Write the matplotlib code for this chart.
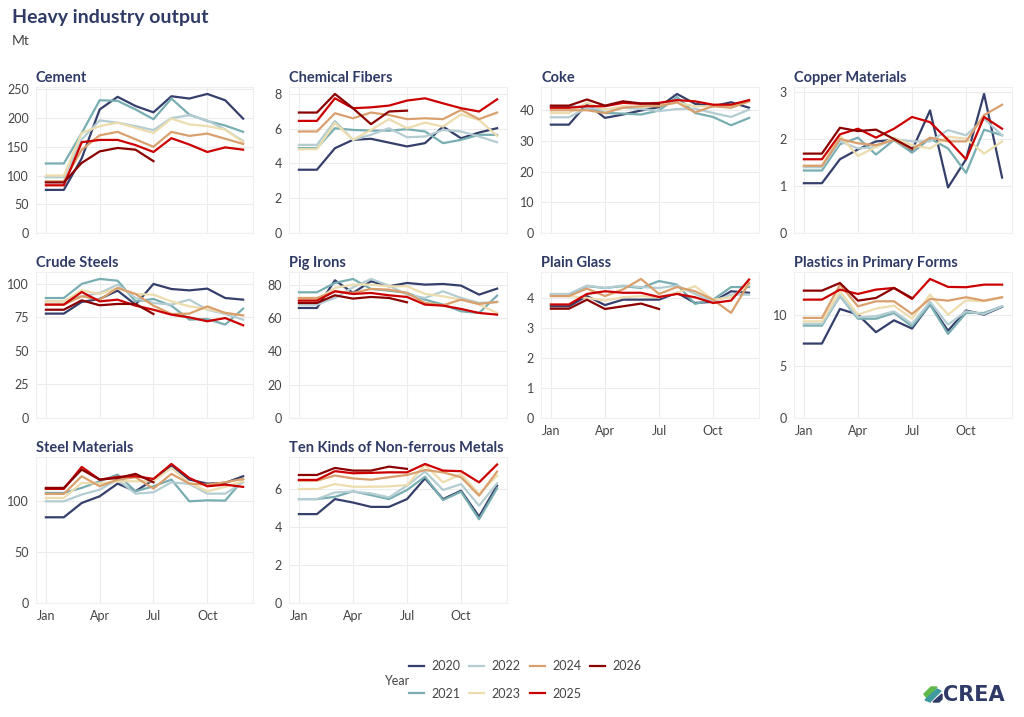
import matplotlib
matplotlib.use("Agg")
import matplotlib.pyplot as plt
from matplotlib.patches import Polygon

plt.rcParams['font.family'] = ['Lato', 'DejaVu Sans']

months = ["Jan", "Feb", "Mar", "Apr", "May", "Jun", "Jul", "Aug", "Sep", "Oct", "Nov", "Dec"]
years = ["2020", "2021", "2022", "2023", "2024", "2025", "2026"]
colors = ["#353f6b", "#78aeb2", "#b4cdd3", "#ecdcae", "#d9a06e", "#cc0000", "#8b0000"]

cement = [
    [75, 75, 130, 215, 237, 221, 210, 238, 234, 242, 231, 199],
    [121, 121, 174, 231, 230, 215, 198, 234, 206, 195, 187, 176],
    [97, 97, 163, 196, 192, 186, 179, 200, 205, 196, 180, 160],
    [100, 100, 174, 186, 192, 183, 174, 199, 189, 186, 180, 158],
    [90, 90, 145, 170, 176, 163, 150, 176, 169, 173, 164, 155],
    [83, 83, 158, 162, 162, 153, 141, 165, 154, 141, 149, 145],
    [88, 88, 122, 142, 148, 145, 125],
]
chemical_fibers = [
    [3.64, 3.64, 4.88, 5.36, 5.42, 5.2, 4.98, 5.17, 6.12, 5.45, 5.78, 6.03],
    [4.88, 4.88, 6.03, 5.93, 5.89, 5.89, 5.97, 5.84, 5.17, 5.36, 5.65, 5.65],
    [5.07, 5.07, 6.45, 5.36, 5.65, 6.03, 5.51, 5.55, 5.93, 5.84, 5.55, 5.22],
    [4.82, 4.82, 6.32, 5.36, 5.93, 6.55, 6.03, 6.35, 6.12, 6.83, 6.5, 5.59],
    [5.84, 5.84, 6.89, 6.6, 6.93, 6.79, 6.55, 6.6, 6.55, 7.08, 6.55, 6.93],
    [6.45, 6.45, 7.75, 7.18, 7.23, 7.33, 7.62, 7.75, 7.46, 7.18, 6.99, 7.69],
    [6.93, 6.93, 8.0, 7.18, 6.26, 6.99, 7.04],
]
coke = [
    [35.3, 35.3, 42.1, 37.5, 38.6, 39.9, 41.0, 45.3, 42.1, 41.3, 42.6, 40.8],
    [41.3, 41.3, 40.8, 39.1, 38.9, 38.6, 39.9, 44.3, 39.1, 37.8, 35.1, 37.5],
    [37.7, 37.7, 40.8, 40.2, 40.8, 40.4, 39.7, 40.4, 40.5, 39.1, 37.8, 40.2],
    [39.1, 39.1, 42.4, 40.2, 41.3, 41.0, 41.8, 42.4, 41.3, 41.3, 41.3, 42.9],
    [40.0, 40.0, 40.0, 39.1, 40.8, 41.3, 41.3, 42.6, 39.3, 41.3, 40.8, 42.9],
    [40.8, 40.8, 41.3, 41.3, 42.4, 42.1, 42.4, 43.3, 42.9, 41.8, 41.8, 43.3],
    [41.5, 41.5, 43.5, 41.5, 42.9, 42.2, 42.1],
]
copper = [
    [1.06, 1.06, 1.57, 1.78, 1.95, 1.98, 1.76, 2.61, 0.97, 1.57, 2.96, 1.18],
    [1.33, 1.33, 1.89, 2.03, 1.67, 1.98, 1.71, 2.01, 1.8, 1.28, 2.2, 2.08],
    [1.4, 1.4, 1.95, 1.8, 1.83, 2.0, 1.95, 1.95, 2.19, 2.08, 2.43, 2.08],
    [1.43, 1.43, 2.07, 1.64, 1.83, 2.03, 1.87, 1.8, 2.05, 2.01, 1.69, 1.95],
    [1.43, 1.43, 2.0, 1.91, 1.87, 1.98, 1.78, 2.03, 1.95, 1.95, 2.51, 2.73],
    [1.57, 1.57, 2.1, 2.22, 2.03, 2.22, 2.47, 2.36, 1.98, 1.57, 2.47, 2.22],
    [1.69, 1.69, 2.24, 2.17, 2.2, 2.0, 1.8],
]
crude_steels = [
    [77.7, 77.7, 86.4, 88.6, 94.8, 84.4, 99.8, 96.0, 95.0, 96.3, 89.3, 88.1],
    [89.3, 89.3, 99.8, 103.5, 102.2, 86.8, 88.6, 83.6, 73.2, 73.7, 69.5, 81.4],
    [86.8, 86.8, 90.6, 93.0, 99.3, 89.3, 85.6, 84.4, 88.1, 80.6, 77.4, 73.2],
    [86.8, 86.8, 95.0, 92.3, 96.8, 92.3, 91.8, 86.8, 83.1, 81.1, 78.2, 76.4],
    [84.4, 84.4, 90.6, 88.1, 96.8, 92.3, 83.6, 77.4, 77.7, 83.1, 78.2, 76.4],
    [84.4, 84.4, 93.8, 86.8, 88.1, 83.6, 80.6, 76.9, 74.9, 72.0, 74.4, 69.0],
    [80.6, 80.6, 87.6, 83.9, 84.9, 84.9, 77.4],
]
pig_irons = [
    [66.0, 66.0, 82.6, 75.0, 82.0, 79.0, 81.0, 80.0, 80.4, 79.4, 74.0, 77.6],
    [75.4, 75.4, 81.0, 83.4, 77.4, 76.4, 75.0, 71.0, 68.0, 64.0, 63.0, 73.4],
    [68.0, 68.0, 72.0, 78.4, 83.4, 79.4, 74.0, 72.0, 76.0, 72.0, 69.0, 69.6],
    [71.0, 71.0, 78.0, 80.0, 80.0, 79.0, 79.0, 74.4, 73.0, 71.0, 68.0, 63.0],
    [72.0, 72.0, 76.0, 75.0, 77.4, 77.0, 75.0, 69.0, 67.6, 71.0, 68.4, 69.6],
    [70.4, 70.4, 76.0, 74.4, 75.0, 73.6, 72.6, 68.0, 67.4, 65.4, 63.0, 62.0],
    [69.0, 69.0, 73.6, 71.6, 72.6, 72.0, 69.4],
]
plain_glass = [
    [3.72, 3.72, 4.06, 3.76, 3.94, 3.94, 3.94, 4.17, 3.83, 3.87, 4.22, 4.17],
    [4.11, 4.11, 4.39, 4.33, 4.39, 4.33, 4.56, 4.44, 3.8, 3.94, 4.36, 4.36],
    [4.13, 4.13, 4.41, 4.33, 4.41, 4.36, 4.33, 4.41, 4.13, 3.87, 4.11, 4.11],
    [4.06, 4.06, 4.0, 3.91, 4.02, 4.06, 4.02, 4.17, 4.39, 3.94, 4.02, 4.44],
    [4.06, 4.06, 4.31, 4.06, 4.28, 4.63, 4.13, 4.36, 4.22, 3.94, 3.5, 4.5],
    [3.78, 3.78, 4.13, 4.22, 4.17, 4.17, 4.03, 4.13, 4.02, 3.83, 3.91, 4.61],
    [3.64, 3.64, 3.94, 3.63, 3.72, 3.81, 3.63],
]
plastics = [
    [7.2, 7.2, 10.55, 10.0, 8.3, 9.45, 8.65, 11.0, 8.45, 10.4, 10.0, 10.75],
    [8.94, 8.94, 11.8, 9.6, 9.6, 10.16, 8.87, 10.97, 8.13, 10.16, 10.16, 10.8],
    [9.1, 9.1, 11.87, 9.74, 9.84, 10.32, 9.1, 11.23, 9.03, 10.32, 10.06, 10.8],
    [9.35, 9.35, 12.26, 10.0, 10.58, 10.87, 9.61, 11.94, 10.0, 11.39, 11.29, 11.68],
    [9.68, 9.68, 12.9, 10.8, 11.29, 11.29, 10.06, 11.52, 11.35, 11.68, 11.35, 11.68],
    [11.45, 11.45, 12.42, 12.0, 12.42, 12.58, 11.52, 13.45, 12.68, 12.65, 12.9, 12.9],
    [12.32, 12.32, 13.06, 11.35, 11.61, 12.58, 11.6],
]
steel_materials = [
    [83.7, 83.7, 97.7, 104.2, 116.6, 109.1, 120.5, 134.2, 120.5, 116.6, 117.3, 123.8],
    [107.5, 107.5, 112.4, 118.9, 125.4, 109.1, 114.0, 120.5, 99.3, 100.3, 100.0, 120.5],
    [99.3, 99.3, 105.9, 110.7, 120.5, 106.8, 108.1, 117.9, 116.3, 106.8, 106.8, 117.9],
    [102.6, 102.6, 117.3, 116.6, 118.9, 118.9, 118.9, 131.9, 117.3, 109.1, 113.4, 118.9],
    [106.5, 106.5, 123.8, 114.0, 120.5, 122.8, 111.7, 126.1, 116.6, 115.6, 117.9, 121.2],
    [111.4, 111.4, 132.9, 120.5, 123.1, 123.8, 121.2, 135.8, 122.1, 114.0, 115.6, 113.4],
    [112.4, 112.4, 130.3, 120.5, 122.1, 126.1, 117.9],
]
nonferrous = [
    [4.68, 4.68, 5.47, 5.29, 5.06, 5.06, 5.47, 6.56, 5.47, 5.91, 4.55, 6.18],
    [5.47, 5.47, 5.59, 5.88, 5.68, 5.47, 5.95, 6.65, 5.42, 5.86, 4.41, 6.04],
    [5.47, 5.47, 5.82, 5.86, 5.77, 5.56, 6.18, 6.92, 5.95, 6.26, 5.12, 6.3],
    [6.0, 6.0, 6.26, 6.12, 6.12, 6.14, 6.21, 7.27, 6.35, 6.79, 5.74, 6.71],
    [6.44, 6.44, 6.71, 6.56, 6.49, 6.62, 6.74, 7.0, 6.88, 6.62, 5.65, 6.92],
    [6.48, 6.48, 6.94, 6.83, 6.85, 6.88, 6.88, 7.32, 6.97, 6.94, 6.35, 7.29],
    [6.74, 6.74, 7.11, 6.97, 6.97, 7.18, 7.06],
]

panel_names = ["Cement", "Chemical Fibers", "Coke", "Copper Materials",
               "Crude Steels", "Pig Irons", "Plain Glass", "Plastics in Primary Forms",
               "Steel Materials", "Ten Kinds of Non-ferrous Metals"]
panel_data = [cement, chemical_fibers, coke, copper, crude_steels, pig_irons,
              plain_glass, plastics, steel_materials, nonferrous]
tick_steps = [50, 2, 10, 1, 25, 20, 1, 5, 50, 2]

W, H = 1024, 717
fig = plt.figure(figsize=(W / 100, H / 100), dpi=100)
fig.patch.set_facecolor("white")

navy = "#2f3a66"
cols = [(36, 253), (289, 507), (541, 759), (794, 1012)]
rows = [(87, 233), (272, 418), (457, 603)]

fig.text(12 / W, 1 - 18 / H, "Heavy industry output", fontsize=14, fontweight="bold",
         color=navy, va="center", ha="left")
fig.text(12 / W, 1 - 41 / H, "Mt", fontsize=10, color="#444444", va="center", ha="left")

lines = []
for i, (name, data) in enumerate(zip(panel_names, panel_data)):
    r, c = divmod(i, 4)
    l, rr = cols[c]
    t, b = rows[r]
    ax = fig.add_axes([l / W, 1 - b / H, (rr - l) / W, (b - t) / H])
    for j, series in enumerate(data):
        ln, = ax.plot(range(len(series)), series, color=colors[j], lw=1.6,
                      solid_joinstyle="round")
        if i == 0:
            lines.append(ln)
    ymax = max(max(s) for s in data) * 1.05
    ax.set_ylim(0, ymax)
    ax.set_xlim(-0.55, 11.55)
    step = tick_steps[i]
    ticks = []
    v = 0
    while v <= ymax:
        ticks.append(v)
        v += step
    ax.set_yticks(ticks)
    ax.set_yticklabels([f"{t_:g}" for t_ in ticks])
    ax.set_xticks([0, 3, 6, 9])
    bottom = (r == 2) or (r == 1 and c >= 2)
    if bottom:
        ax.set_xticklabels(["Jan", "Apr", "Jul", "Oct"])
    else:
        ax.set_xticklabels([])
    ax.tick_params(length=0, labelsize=9, labelcolor="#444444", pad=5)
    ax.grid(True, color="#ececec", lw=0.8)
    ax.set_axisbelow(True)
    for s in ax.spines.values():
        s.set_color("#f0f0f0")
        s.set_linewidth(0.8)
    fig.text(l / W, 1 - (t - 5) / H, name,
             fontsize=10.5, fontweight="bold", color=navy, ha="left", va="baseline")

leg = fig.legend(lines, years, ncol=4, loc="center left",
                 bbox_to_anchor=(409 / W, 1 - 680 / H), borderpad=0, borderaxespad=0,
                 frameon=False, fontsize=9, handlelength=1.2, handletextpad=0.6,
                 columnspacing=0.7, labelspacing=1.25)
for t_ in leg.get_texts():
    t_.set_color("#444444")
fig.text(384 / W, 1 - 681 / H, "Year", fontsize=9, color="#444444", ha="left", va="center")

# logo
def px(x, y):
    return (x / W, 1 - y / H)

fig.patches.append(Polygon([px(924, 694), px(931, 687), px(937, 687), px(927, 698)],
                           closed=True, color="#5fb848", transform=fig.transFigure))
fig.patches.append(Polygon([px(925, 700), px(937, 689), px(941, 691), px(930, 702)],
                           closed=True, color="#3f9aa0", transform=fig.transFigure))
fig.patches.append(Polygon([px(933, 702), px(942, 694), px(942, 699), px(939, 702)],
                           closed=True, color=navy, transform=fig.transFigure))
fig.text(943 / W, 1 - 695 / H, "CREA", fontsize=15, fontweight="bold", color=navy,
         ha="left", va="center", family="DejaVu Sans")

fig.savefig("out.png", dpi=100)
